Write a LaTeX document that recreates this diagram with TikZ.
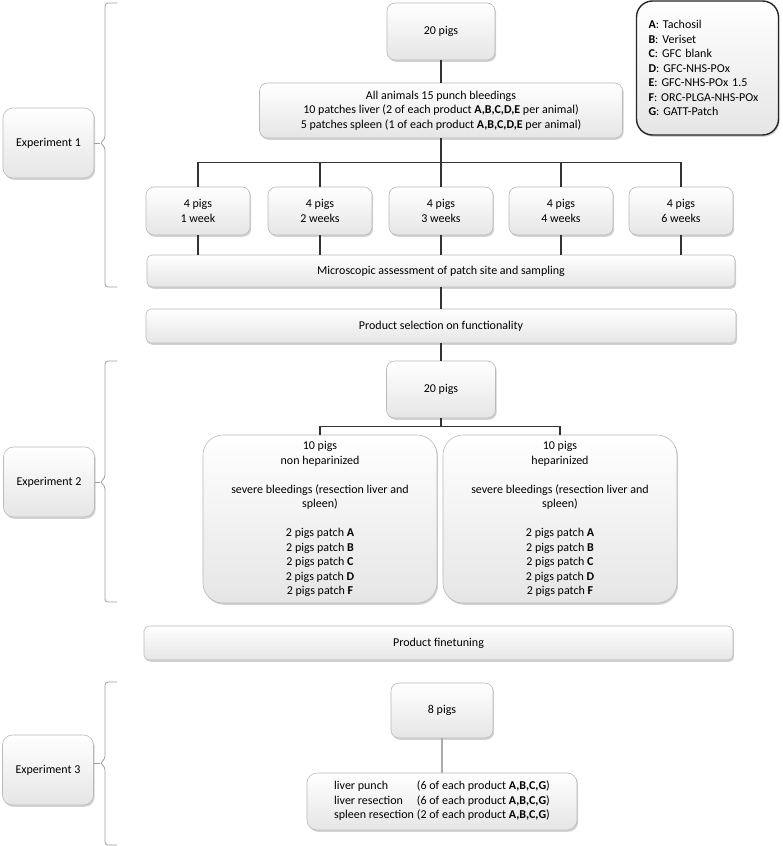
\documentclass[tikz,border=0pt]{standalone}
\usepackage{fontspec}
\setmainfont{Carlito}
\usetikzlibrary{positioning}
\usetikzlibrary{calc}
\usetikzlibrary{shadows}

\begin{document}
\begin{tikzpicture}[x=1pt,y=-1pt]
	\tikzset{box/.style = {shape=rectangle, rounded corners=8pt, draw=gray!55, line width=0.6pt, top color=white, bottom color=gray!20, drop shadow={shadow xshift=1.2pt, shadow yshift=-1.8pt, opacity=0.35}, align=center, inner sep=0pt, text=black, font=\fontsize{12}{14.5}\selectfont}}
	\tikzset{bigbox/.style = {box, rounded corners=20pt, minimum width=234pt, minimum height=168pt}}
	\tikzset{weekbox/.style = {box, minimum width=104pt, minimum height=48pt}}
	\tikzset{wide/.style = {box, rounded corners=5pt, minimum width=590pt, minimum height=33pt}}
	\tikzset{expbox/.style = {box, rounded corners=10pt, minimum width=91pt, minimum height=70pt}}
	\tikzset{link/.style = {draw=black!80, line width=1.1pt}}
	\tikzset{brace/.style = {draw=gray!75, line width=0.8pt, rounded corners=3pt}}
	\useasboundingbox (0,0) rectangle (782,846);

	\node[expbox] (EXPONE) at (48.5,143) {Experiment 1};
	\node[expbox] (EXPTWO) at (49,482) {Experiment 2};
	\node[expbox] (EXPTHREE) at (48,770) {Experiment 3};

	\node[box, minimum width=108pt, minimum height=57pt] (PIGSA) at (441,31.5) {20 pigs};
	\node[box, minimum width=363pt, minimum height=55pt] (PUNCH) at (441,110.5)
	{All animals 15 punch bleedings\\
		10 patches liver (2 of each product \textbf{A,B,C,D,E} per animal)\\
		5 patches spleen (1 of each product \textbf{A,B,C,D,E} per animal)};

	\node[weekbox] (WEEKA) at (198,211) {4 pigs\\ 1 week};
	\node[weekbox] (WEEKB) at (320,211) {4 pigs\\ 2 weeks};
	\node[weekbox] (WEEKC) at (441,211) {4 pigs\\ 3 weeks};
	\node[weekbox] (WEEKD) at (561,211) {4 pigs\\ 4 weeks};
	\node[weekbox] (WEEKE) at (681,211) {4 pigs\\ 6 weeks};

	\node[wide, minimum width=588pt, minimum height=32pt] (MICRO) at (441,271) {Microscopic assessment of patch site and sampling};
	\node[wide, minimum height=34pt] (SELECT) at (441,326) {Product selection on functionality};

	\node[box, minimum width=109pt, minimum height=57pt] (PIGSB) at (441,389.5) {20 pigs};
	\node[bigbox] (NONHEP) at (320,519)
	{10 pigs\\ non heparinized\\[14.5pt]
		severe bleedings (resection liver and\\ spleen)\\[14.5pt]
		2 pigs patch \textbf{A}\\ 2 pigs patch \textbf{B}\\ 2 pigs patch \textbf{C}\\ 2 pigs patch \textbf{D}\\ 2 pigs patch \textbf{F}};
	\node[bigbox] (HEP) at (560,519)
	{10 pigs\\ heparinized\\[14.5pt]
		severe bleedings (resection liver and\\ spleen)\\[14.5pt]
		2 pigs patch \textbf{A}\\ 2 pigs patch \textbf{B}\\ 2 pigs patch \textbf{C}\\ 2 pigs patch \textbf{D}\\ 2 pigs patch \textbf{F}};

	\node[wide, minimum width=589pt, minimum height=34pt] (FINE) at (438.5,643) {Product finetuning};

	\node[box, minimum width=102pt, minimum height=55pt] (PIGSC) at (442,710.5) {8 pigs};
	\node[box, rounded corners=10pt, minimum width=270pt, minimum height=57pt] (SITES) at (442,801.5)
	{\begin{tabular}{@{}l@{\hspace{3pt}}l@{}}
			liver punch & (6 of each product \textbf{A,B,C,G})\\
			liver resection & (6 of each product \textbf{A,B,C,G})\\
			spleen resection & (2 of each product \textbf{A,B,C,G})
		\end{tabular}};

	\node[box, rounded corners=16pt, draw=black!85, line width=1.4pt, text width=118pt, inner xsep=12pt, minimum height=134pt, align=left] (LEGEND) at (707.5,68)
	{\textbf{A}: Tachosil\\ \textbf{B}: Veriset\\ \textbf{C}: GFC blank\\ \textbf{D}: GFC-NHS-POx\\ \textbf{E}: GFC-NHS-POx 1.5\\ \textbf{F}: ORC-PLGA-NHS-POx\\ \textbf{G}: GATT-Patch};

	\draw[link] (PIGSA.south) -- (PUNCH.north);
	\foreach \w in {WEEKA,WEEKB,WEEKC,WEEKD,WEEKE}
	{
		\draw[link] (PUNCH.south) -- ++(0,24) -| (\w.north);
		\draw[link] (\w.south) -- (\w.south |- MICRO.north);
	}
	\draw[link] (MICRO.south) -- (SELECT.north);
	\draw[link] (SELECT.south) -- (PIGSB.north);
	\draw[link] (PIGSB.south) -- ++(0,8) -| (NONHEP.north);
	\draw[link] (PIGSB.south) -- ++(0,8) -| (HEP.north);
	\draw[link, draw=gray!65] (PIGSC.south) -- (SITES.north);

	\coordinate (TIPONE) at (100,143);
	\coordinate (TIPTWO) at (100,482);
	\coordinate (TIPTHREE) at (100,763);
	\draw[brace] (117,3) -- (105,3) -- (105,139) -- (TIPONE) -- (105,147) -- (105,287) -- (117,287);
	\draw[brace] (EXPONE.east) -- (TIPONE);
	\draw[brace] (117,361) -- (105,361) -- (105,478) -- (TIPTWO) -- (105,486) -- (105,602) -- (117,602);
	\draw[brace] (EXPTWO.east) -- (TIPTWO);
	\draw[brace] (117,682) -- (105,682) -- (105,759) -- (TIPTHREE) -- (105,767) -- (105,845) -- (117,845);
	\draw[brace] (EXPTHREE.east |- TIPTHREE) -- (TIPTHREE);
\end{tikzpicture}
\end{document}
